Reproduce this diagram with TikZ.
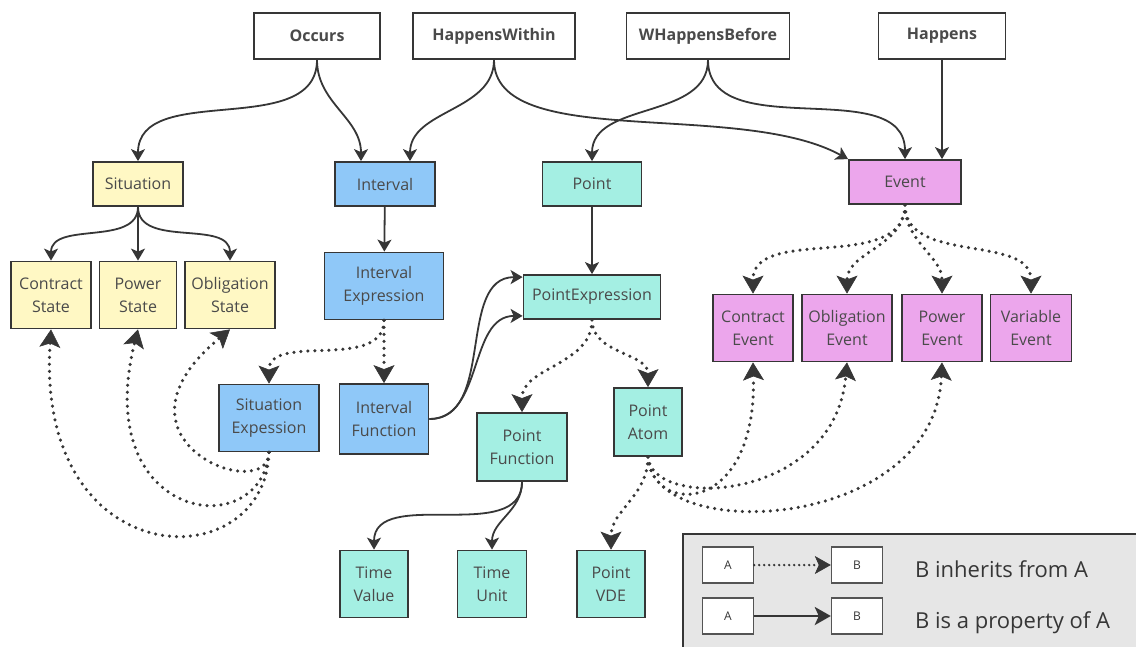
\documentclass[tikz,border=0pt]{standalone}
\usepackage{fontspec}
\setmainfont{Open Sans}
\usepackage{tikz}
\usetikzlibrary{arrows.meta,calc,positioning}

\definecolor{sitfill}{HTML}{FFF8C4}
\definecolor{intfill}{HTML}{8FC8F8}
\definecolor{ptfill}{HTML}{A4EFE3}
\definecolor{evfill}{HTML}{ECA6EC}
\definecolor{edge}{HTML}{363636}
\definecolor{legfill}{HTML}{E6E6E6}

\begin{document}
\begin{tikzpicture}[x=1pt,y=1pt,
  box/.style={draw=edge, line width=1.8pt, text=edge!90, align=center, inner sep=0pt,
              minimum height=44pt, font=\fontsize{16}{23}\selectfont},
  topbox/.style={box, fill=white, minimum height=46pt, font=\fontsize{16}{23}\selectfont\bfseries},
  twoline/.style={minimum height=67pt},
  sitbox/.style={box, fill=sitfill},
  intbox/.style={box, fill=intfill},
  ptbox/.style={box, fill=ptfill},
  evbox/.style={box, fill=evfill},
  legbox/.style={draw=edge!85, line width=1.4pt, fill=white, text=edge, inner sep=0pt,
                 minimum width=51pt, minimum height=36pt, font=\fontsize{12}{14}\selectfont},
  prop/.style={draw=edge, line width=1.8pt, -{Stealth[length=12pt,width=14pt,inset=3pt]}},
  inh/.style={draw=edge, line width=3.5pt, line cap=round, dash pattern=on 0pt off 7pt,
              -{Stealth[length=18pt,width=21pt,inset=4pt,line width=0.6pt]}},
]
\useasboundingbox (0,0) rectangle (1136,-646);

% relations on top
\node[topbox, minimum width=126pt] (occurs) at (317,-36) {Occurs};
\node[topbox, minimum width=162pt] (within) at (494,-36) {HappensWithin};
\node[topbox, minimum width=163pt] (wbefore) at (708,-36) {WHappensBefore};
\node[topbox, minimum width=127pt] (happens) at (942,-36) {Happens};

% main types
\node[sitbox, minimum width=90pt] (situation) at (138,-184) {Situation};
\node[intbox, minimum width=100pt] (interval) at (385,-184) {Interval};
\node[ptbox, minimum width=99pt] (point) at (592,-184) {Point};
\node[evbox, minimum width=112pt] (event) at (905,-182) {Event};

\node[sitbox, twoline, minimum width=80pt] (cstate) at (51,-295) {Contract\\State};
\node[sitbox, twoline, minimum width=77pt] (pstate) at (138,-295) {Power\\State};
\node[sitbox, twoline, minimum width=90pt] (ostate) at (230,-295) {Obligation\\State};
\node[intbox, twoline, minimum width=119pt] (intexpr) at (384,-286) {Interval\\Expression};
\node[ptbox, minimum width=137pt] (pointexpr) at (592,-297) {PointExpression};
\node[evbox, twoline, minimum width=80pt] (cevent) at (753,-328) {Contract\\Event};
\node[evbox, twoline, minimum width=90pt] (oevent) at (847,-328) {Obligation\\Event};
\node[evbox, twoline, minimum width=80pt] (pevent) at (942,-328) {Power\\Event};
\node[evbox, twoline, minimum width=81pt] (vevent) at (1031,-328) {Variable\\Event};

\node[intbox, twoline, minimum width=100pt] (sitexp) at (269,-418) {Situation\\Expession};
\node[intbox, twoline, minimum width=89pt, minimum height=70pt] (intfunc) at (384,-419) {Interval\\Function};
\node[ptbox, twoline, minimum width=90pt, minimum height=68pt] (pointfunc) at (522,-447) {Point\\Function};
\node[ptbox, twoline, minimum width=68pt, minimum height=68pt] (pointatom) at (648,-422) {Point\\Atom};
\node[ptbox, twoline, minimum width=68pt] (timevalue) at (374,-584) {Time\\Value};
\node[ptbox, twoline, minimum width=69pt] (timeunit) at (492,-584) {Time\\Unit};
\node[ptbox, twoline, minimum width=68pt] (pointvde) at (611,-584) {Point\\VDE};

% properties
\draw[prop] (occurs.south) to[out=-90,in=90] (situation.north);
\draw[prop] (occurs.south) to[out=-90,in=90] ($(interval.north)+(-24,0)$);
\draw[prop] (within.south) to[out=-90,in=90] ($(interval.north)+(25,0)$);
\draw[prop] (within.south) .. controls +(0,-92) and +(-110,60) .. (event.north west);
\draw[prop] (wbefore.south) to[out=-90,in=90] (point.north);
\draw[prop] (wbefore.south) to[out=-90,in=90] (event.north);
\draw[prop] (happens.south) -- (happens.south |- event.north);
\draw[prop] (situation.south) to[out=-90,in=90] (cstate.north);
\draw[prop] (situation.south) -- (pstate.north);
\draw[prop] (situation.south) to[out=-90,in=90] (ostate.north);
\draw[prop] (interval) -- (intexpr);
\draw[prop] (point) -- (pointexpr);
\draw[prop] (intfunc.east) to[out=0,in=180] ($(pointexpr.north west)+(0,-3)$);
\draw[prop] (intfunc.east) to[out=0,in=180] ($(pointexpr.south west)+(0,4)$);
\draw[prop] (pointfunc.south) to[out=-90,in=90] (timevalue.north);
\draw[prop] (pointfunc.south) to[out=-90,in=90] (timeunit.north);

% inheritance
\foreach \sub in {cevent,oevent,pevent,vevent}
  \draw[inh] (event.south) to[out=-90,in=90] (\sub.north);
\draw[inh] (intexpr.south) to[out=-90,in=90] (sitexp.north);
\draw[inh] (intexpr) -- (intfunc);
\draw[inh] (pointexpr.south) to[out=-90,in=90] (pointfunc.north);
\draw[inh] (pointexpr.south) to[out=-90,in=90] (pointatom.north);
\draw[inh] (sitexp.south) .. controls +(0,-53) and +(-135,-112) .. (ostate.south);
\draw[inh] (sitexp.south) .. controls +(-9,-93) and +(-48,-192) .. (pstate.south);
\draw[inh] (sitexp.south) .. controls +(-4,-128) and +(-16,-247) .. (cstate.south);
\draw[inh] (pointatom.south) .. controls +(4,-59) and +(4,-154) .. (cevent.south);
\draw[inh] (pointatom.south) .. controls +(4,-54) and +(-12,-139) .. (oevent.south);
\draw[inh] (pointatom.south) .. controls +(4,-89) and +(-7,-169) .. (pevent.south);
\draw[inh] (pointatom.south) to[out=-90,in=90] (pointvde.north);

% legend
\begin{scope}
  \clip (0,0) rectangle (1136,-646);
  \draw[draw=edge, line width=2.6pt, fill=legfill] (683,-534) rectangle (1160,-670);
\end{scope}
\node[legbox] (la1) at (728,-565) {A};
\node[legbox] (lb1) at (857,-565) {B};
\node[legbox] (la2) at (728,-616) {A};
\node[legbox] (lb2) at (857,-616) {B};
\draw[draw=edge, line width=2.6pt, line cap=round, dash pattern=on 0pt off 5pt,
      -{Stealth[length=16pt,width=18pt,inset=4pt,line width=0.6pt]}] (la1) -- (lb1);
\draw[draw=edge, line width=2.8pt, -{Stealth[length=16pt,width=18pt,inset=4pt]}] (la2) -- (lb2);
\node[anchor=base west, inner sep=0pt, text=edge, font=\fontsize{22}{26}\selectfont] (ltext1) at (915,-577) {B inherits from A};
\node[anchor=base west, inner sep=0pt, text=edge, font=\fontsize{22}{26}\selectfont] (ltext2) at (915,-628) {B is a property of A};
\end{tikzpicture}
\end{document}
